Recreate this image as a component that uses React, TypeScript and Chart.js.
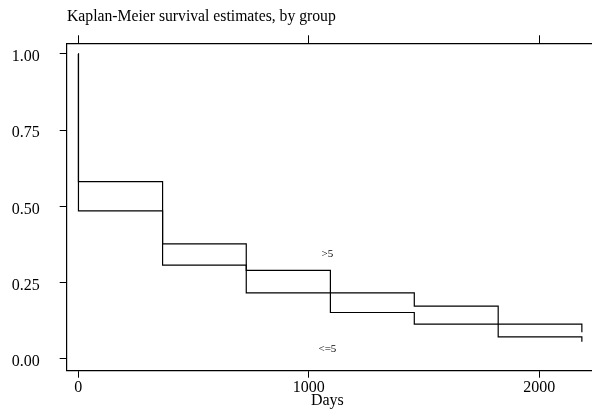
import React, { useEffect, useRef } from "react";
import { Chart, registerables } from "chart.js";

Chart.register(...registerables);

// ---- data ----
const days = [0, 1, 366, 729, 1094, 1458, 1822, 2185];
const survGt5 = [1, 0.581, 0.377, 0.29, 0.152, 0.114, 0.114, 0.087];
const survLe5 = [1, 0.485, 0.307, 0.216, 0.216, 0.173, 0.072, 0.056];
const groupNames = [">5", "<=5"];
const labelDay = [1081, 1081];
const labelSurv = [0.343, 0.033];
const xTicks = [0, 1000, 2000];
const yTicks = [0, 0.25, 0.5, 0.75, 1];
const titleText = "Kaplan-Meier survival estimates, by group";
const xTitle = "Days";

const FONT = '"Liberation Serif", "Times New Roman", serif';

export default function App() {
  const ref = useRef<HTMLCanvasElement | null>(null);

  useEffect(() => {
    document.body.style.margin = "0";
    const canvas = ref.current;
    if (!canvas) return;

    const textPlugin = {
      id: "kmText",
      afterDraw(chart: any) {
        const ctx = chart.ctx;
        const xs = chart.scales.x;
        const ys = chart.scales.y;
        const area = chart.chartArea;
        ctx.save();
        ctx.fillStyle = "#000";
        ctx.font = `15.7px ${FONT}`;
        ctx.textAlign = "left";
        ctx.textBaseline = "alphabetic";
        ctx.fillText(titleText, 67, 20.5);
        ctx.font = `16px ${FONT}`;
        ctx.textAlign = "center";
        ctx.textBaseline = "middle";
        ctx.fillText(xTitle, (area.left + area.right) / 2 - 2, 401);
        ctx.font = `11px ${FONT}`;
        for (let i = 0; i < groupNames.length; i++) {
          ctx.fillText(
            groupNames[i],
            xs.getPixelForValue(labelDay[i]),
            ys.getPixelForValue(labelSurv[i])
          );
        }
        ctx.restore();
      },
    };

    const gridOpts = (len: number) => ({
      display: true,
      drawOnChartArea: false,
      drawTicks: true,
      tickLength: len,
      color: "#000",
      lineWidth: 1,
    });
    const borderOpts = { display: true, color: "#000", width: 1.2 };

    const chart = new Chart(canvas, {
      type: "line",
      data: {
        datasets: [
          {
            label: groupNames[0],
            data: days.map((d, i) => ({ x: d, y: survGt5[i] })),
            stepped: true,
            borderColor: "#000",
            borderWidth: 1.2,
            pointRadius: 0,
            fill: false,
          },
          {
            label: groupNames[1],
            data: days.map((d, i) => ({ x: d, y: survLe5[i] })),
            stepped: true,
            borderColor: "#000",
            borderWidth: 1.2,
            pointRadius: 0,
            fill: false,
          },
        ],
      },
      options: {
        animation: false,
        responsive: false,
        maintainAspectRatio: false,
        layout: { padding: 0 },
        plugins: {
          legend: { display: false },
          tooltip: { enabled: false },
          title: { display: false },
        },
        scales: {
          x: {
            type: "linear",
            position: "bottom",
            min: -50,
            max: 2229,
            afterBuildTicks: (s: any) => {
              s.ticks = xTicks.map((v) => ({ value: v }));
            },
            afterFit: (s: any) => {
              s.height = 38.3;
            },
            grid: gridOpts(7),
            border: borderOpts,
            ticks: {
              color: "#000",
              font: { family: FONT, size: 16 },
              padding: 0,
              maxRotation: 0,
              autoSkip: false,
              callback: (v: any) => String(v),
            },
          },
          xTop: {
            type: "linear",
            position: "top",
            min: -50,
            max: 2229,
            afterBuildTicks: (s: any) => {
              s.ticks = xTicks.map((v) => ({ value: v }));
            },
            afterFit: (s: any) => {
              s.height = 43.3;
            },
            grid: gridOpts(8),
            border: borderOpts,
            ticks: { display: false },
          },
          y: {
            type: "linear",
            position: "left",
            min: -0.039,
            max: 1.035,
            afterBuildTicks: (s: any) => {
              s.ticks = yTicks.map((v) => ({ value: v }));
            },
            afterFit: (s: any) => {
              s.width = 66.7;
            },
            grid: gridOpts(7),
            border: borderOpts,
            ticks: {
              color: "#000",
              font: { family: FONT, size: 16 },
              padding: 20,
              labelOffset: 3,
              autoSkip: false,
              callback: (v: any) => Number(v).toFixed(2),
            },
          },
        },
      },
      plugins: [textPlugin],
    } as any);

    return () => {
      chart.destroy();
    };
  }, []);

  return (
    <div style={{ position: "absolute", left: 0, top: 0, width: 592, height: 409, background: "#fff" }}>
      <canvas ref={ref} width={592} height={409} style={{ width: 592, height: 409, display: "block" }} />
    </div>
  );
}
